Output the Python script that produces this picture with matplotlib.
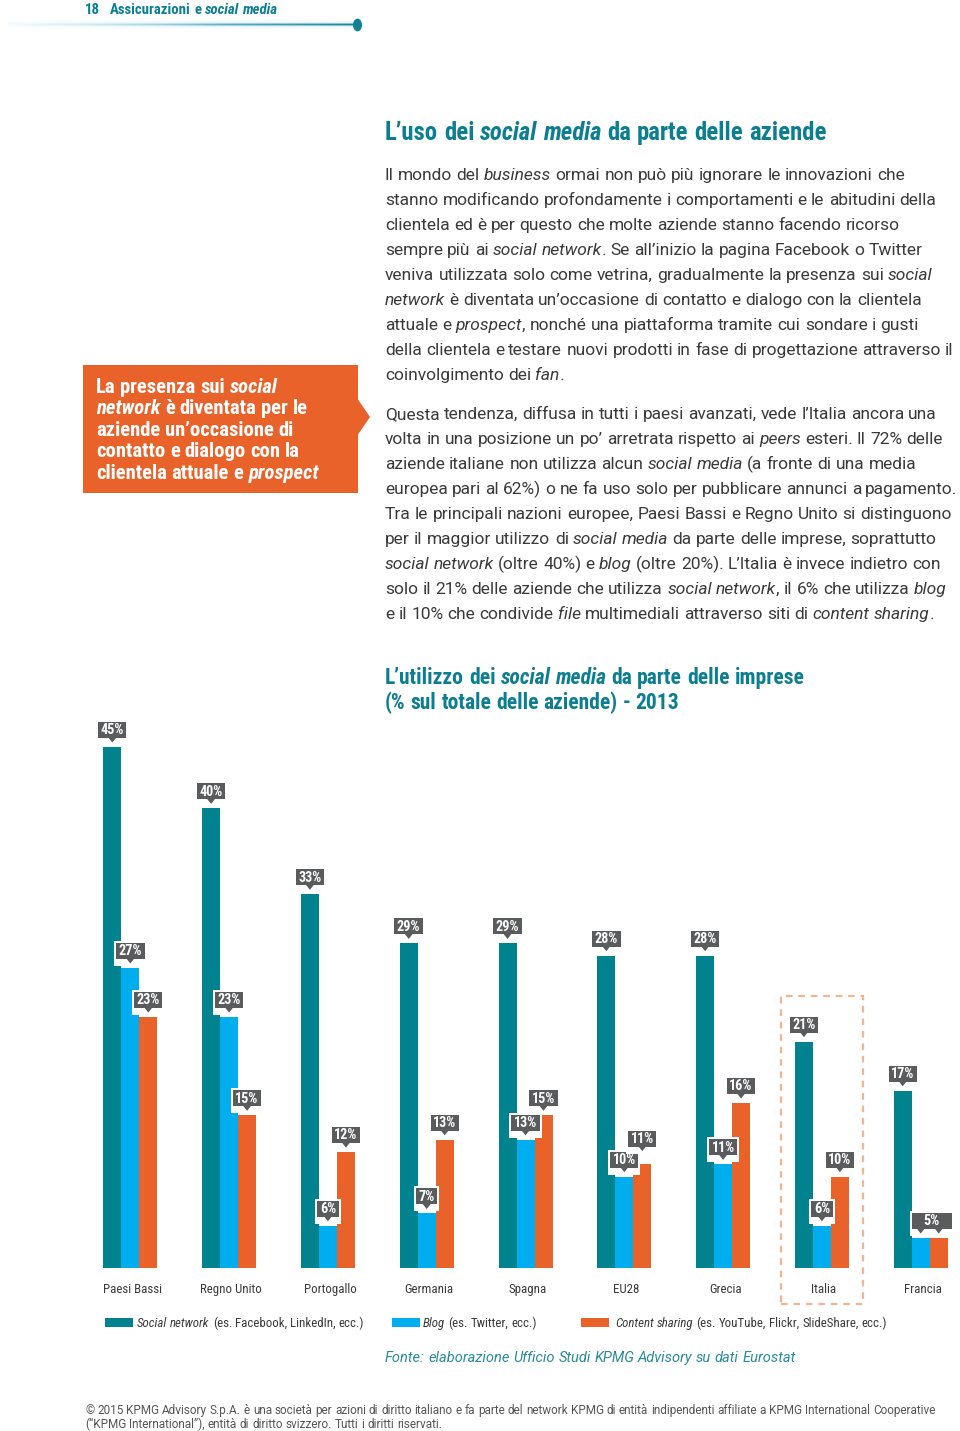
import matplotlib
matplotlib.use('Agg')
import matplotlib.pyplot as plt
from matplotlib import font_manager as fm
from matplotlib.patches import Rectangle, Polygon, Circle
from matplotlib.transforms import IdentityTransform
import numpy as np

# ---------------- data ----------------
categories = ['Paesi Bassi', 'Regno Unito', 'Portogallo', 'Germania', 'Spagna',
              'EU28', 'Grecia', 'Italia', 'Francia']
social_network = [45, 40, 33, 29, 29, 28, 28, 21, 17]
blog = [27, 23, 6, 7, 13, 10, 11, 6, 5]
content_sharing = [23, 15, 12, 13, 15, 11, 16, 10, 5]
series_names = ['*Social network* (es. Facebook, LinkedIn, ecc.)',
                '*Blog* (es. Twitter, ecc.)',
                '*Content sharing* (es. YouTube, Flickr, SlideShare, ecc.)']
highlight = 'Italia'

header_num = '18'
header_txt = 'Assicurazioni e *social media*'
callout_lines = ['La presenza sui *social*',
                 '*network* è diventata per le',
                 'aziende un’occasione di',
                 'contatto e dialogo con la',
                 'clientela attuale e *prospect*']
title1 = 'L’uso dei *social media* da parte delle aziende'
para1 = ['Il mondo del *business* ormai non può più ignorare le innovazioni che',
         'stanno modificando profondamente i comportamenti e le abitudini della',
         'clientela ed è per questo che molte aziende stanno facendo ricorso',
         'sempre più ai *social network*. Se all’inizio la pagina Facebook o Twitter',
         'veniva utilizzata solo come vetrina, gradualmente la presenza sui *social*',
         '*network* è diventata un’occasione di contatto e dialogo con la clientela',
         'attuale e *prospect*, nonché una piattaforma tramite cui sondare i gusti',
         'della clientela e testare nuovi prodotti in fase di progettazione attraverso il',
         'coinvolgimento dei *fan*.']
para2 = ['Questa tendenza, diffusa in tutti i paesi avanzati, vede l’Italia ancora una',
         'volta in una posizione un po’ arretrata rispetto ai *peers* esteri. Il 72% delle',
         'aziende italiane non utilizza alcun *social media* (a fronte di una media',
         'europea pari al 62%) o ne fa uso solo per pubblicare annunci a pagamento.',
         'Tra le principali nazioni europee, Paesi Bassi e Regno Unito si distinguono',
         'per il maggior utilizzo di *social media* da parte delle imprese, soprattutto',
         '*social network* (oltre 40%) e *blog* (oltre 20%). L’Italia è invece indietro con',
         'solo il 21% delle aziende che utilizza *social network*, il 6% che utilizza *blog*',
         'e il 10% che condivide *file* multimediali attraverso siti di *content sharing*.']
chart_title = ['L’utilizzo dei *social media* da parte delle imprese',
               '(% sul totale delle aziende) - 2013']
source = '*Fonte: elaborazione Ufficio Studi KPMG Advisory su dati Eurostat*'
footer = ['© 2015 KPMG Advisory S.p.A. è una società per azioni di diritto italiano e fa parte del network KPMG di entità indipendenti affiliate a KPMG International Cooperative',
          '(“KPMG International”), entità di diritto svizzero. Tutti i diritti riservati.']

# ---------------- style ----------------
TEAL = '#00838f'
BLUE = '#00aeef'
ORANGE = '#e8622a'
TITLE = '#0b7f91'
BOXC = '#5a5b5d'
TXT = '#3a3a3a'

_names = {f.name for f in fm.fontManager.ttflist}


def pick(prefs):
    for p in prefs:
        if p in _names:
            return [p, 'DejaVu Sans']
    return ['DejaVu Sans']


COND = pick(['Liberation Sans Narrow', 'Roboto Condensed', 'Open Sans Condensed',
             'Arial Narrow', 'Liberation Sans', 'Roboto'])
BODY = pick(['Roboto', 'Lato', 'Open Sans'])

W, H = 960, 1431
fig = plt.figure(figsize=(W / 100, H / 100), dpi=100)
fig.patch.set_facecolor('white')
R = fig.canvas.get_renderer()
ID = IdentityTransform()


def fx(x):
    return x / W


def fy(y):
    return 1 - y / H


def parse(text):
    tokens = []
    pending = False
    for k, seg in enumerate(text.split('*')):
        it = k % 2 == 1
        for j, p in enumerate(seg.split(' ')):
            if j > 0:
                pending = True
            if p:
                tokens.append((p, it, pending))
                pending = False
    return tokens


_cache = {}


def tw(s, size, family, weight, italic):
    key = (s, size, tuple(family), weight, italic)
    if key not in _cache:
        t = fig.text(0, 0, s, fontsize=size, family=family, weight=weight,
                     style='italic' if italic else 'normal')
        _cache[key] = t.get_window_extent(renderer=R).width
        t.remove()
    return _cache[key]


def space_w(size, family, weight):
    return tw('n n', size, family, weight, False) - tw('nn', size, family, weight, False)


def line_width(text, size, family, weight):
    sp = space_w(size, family, weight)
    w = 0
    for i, (s, it, spb) in enumerate(parse(text)):
        if spb and i > 0:
            w += sp
        w += tw(s, size, family, weight, it)
    return w


def fit(text, target, family, weight):
    return 10 * target / line_width(text, 10, family, weight)


def draw_line(x, y, text, size, family, weight, color, italic_all=False):
    sp = space_w(size, family, weight)
    for i, (s, it, spb) in enumerate(parse(text)):
        if spb and i > 0:
            x += sp
        fig.text(fx(x), fy(y), s, fontsize=size, family=family, weight=weight,
                 style='italic' if (it or italic_all) else 'normal', color=color,
                 ha='left', va='baseline')
        x += tw(s, size, family, weight, it)


# ---------------- header ----------------
hs = fit(header_txt, 167, COND, 'bold')
draw_line(85, 14, header_num, hs, COND, 'bold', TITLE)
draw_line(110, 14, header_txt, hs, COND, 'bold', TITLE)

gx0, gx1, gyc, gh = 8, 356, 25, 11
hax = fig.add_axes([fx(gx0), fy(gyc + gh / 2), (gx1 - gx0) / W, gh / H])
hax.axis('off')
n = 400
t = np.linspace(0, 1, n)
c0 = np.array([0.80, 0.93, 0.98])
c1 = np.array([0.08, 0.50, 0.58])
tc = t ** 1.1
rgb = c0[None, :] + (c1 - c0)[None, :] * tc[:, None]
yy = np.linspace(-1, 1, gh * 4)
core = np.clip(1.6 - np.abs(yy) * 5.0, 0, 1)
glow = np.exp(-(yy / 0.55) ** 2) * 0.45
img = np.zeros((len(yy), n, 4))
img[..., :3] = rgb[None, :, :] * core[:, None, None] + np.array([0.68, 0.88, 0.97])[None, None, :] * (1 - core[:, None, None])
alpha_x = np.clip(0.25 + 1.2 * t, 0, 1)
img[..., 3] = np.maximum(core[:, None], glow[:, None]) * alpha_x[None, :]
hax.imshow(img, aspect='auto', extent=(0, 1, 0, 1), interpolation='bilinear')
hax.set_xlim(0, 1)
hax.set_ylim(0, 1)
fig.add_artist(Circle((fx(357.5), fy(25)), 3.8 / W, color=tuple(c1), transform=fig.transFigure))

# ---------------- callout ----------------
fig.add_artist(Rectangle((fx(83), fy(493)), (358 - 83) / W, (493 - 365) / H,
                         color=ORANGE, transform=fig.transFigure, lw=0))
fig.add_artist(Polygon([(fx(357), fy(398)), (fx(370), fy(417)), (fx(357), fy(436))],
                       closed=True, color=ORANGE, lw=0, transform=fig.transFigure))
cs = 0.95 * fit(callout_lines[3], 214, COND, 'bold')
for i, ln in enumerate(callout_lines):
    draw_line(96, 393 + 21.4 * i, ln, cs, COND, 'bold', 'white')

# ---------------- title + body ----------------
ts = fit(title1, 441, COND, 'bold')
draw_line(385, 140, title1, ts, COND, 'bold', TITLE)
bs = fit(para1[0], 520, BODY, 'normal')
for i, ln in enumerate(para1):
    draw_line(385, 180 + 25 * i, ln, bs, BODY, 'normal', TXT)
for i, ln in enumerate(para2):
    draw_line(385, 419 + 25 * i, ln, bs, BODY, 'normal', TXT)

# ---------------- chart ----------------
cts = fit(chart_title[0], 420, COND, 'bold')
draw_line(385, 684, chart_title[0], cts, COND, 'bold', TITLE)
draw_line(385, 709, chart_title[1], cts, COND, 'bold', TITLE)

ax = fig.add_axes([fx(90), fy(1268), (955 - 90) / W, (1268 - 700) / H])
x = np.arange(len(categories))
bw = 18 / 98.8
series = [social_network, blog, content_sharing]
colors = [TEAL, BLUE, ORANGE]
offs = [-bw, 0, bw]
for vals, c, o in zip(series, colors, offs):
    ax.bar(x + o, vals, width=bw, color=c, linewidth=0)
ax.set_xlim(-0.408, 8.347)
ax.set_ylim(2.56, 48.83)
for sp_ in ax.spines.values():
    sp_.set_visible(False)
ax.set_yticks([])
ax.set_xticks(x + 0.02)
ls = fit(categories[0], 58.4, COND, 'normal')
ax.set_xticklabels(categories, family=COND, fontsize=ls, color=TXT)
ax.tick_params(axis='x', length=0, pad=11)
ax.patch.set_alpha(0)

hi = categories.index(highlight)
ax.add_patch(Rectangle((hi - 0.415, -0.37), 0.83, 25.07, fill=False,
                       edgecolor='#f2b592', lw=1.6, linestyle=(0, (3, 2.6)),
                       clip_on=False))

fig.canvas.draw()
lab_s = fit('45%', 23.5, COND, 'bold')
BH = 16


def draw_tag(xd, b0, bwid, label, pointers):
    fig.add_artist(Rectangle((xd - bwid / 2 - 2, b0 - 7), bwid + 4, BH + 9,
                             color='white', lw=0, transform=ID))
    fig.add_artist(Rectangle((xd - bwid / 2, b0), bwid, BH, color=BOXC, lw=0, transform=ID))
    for px in pointers:
        fig.add_artist(Polygon([(px - 4, b0 + 0.5), (px + 4, b0 + 0.5), (px, b0 - 4.5)],
                               closed=True, color=BOXC, lw=0, transform=ID))
    fig.text(xd, b0 + BH / 2 - 0.3, label, transform=ID, ha='center', va='center',
             family=COND, weight='bold', fontsize=lab_s, color='white')


for i in range(len(categories)):
    placed = []
    for k, (vals, o) in enumerate(zip(series, offs)):
        v = vals[i]
        label = f'{v}%'
        if k == 2 and blog[i] == content_sharing[i]:
            continue
        xd, yd = ax.transData.transform((i + o, v))
        pointers = [xd]
        bwid = tw(label, lab_s, COND, 'bold', False) + 5
        if k == 1 and blog[i] == content_sharing[i]:
            xb, _ = ax.transData.transform((i + offs[2], v))
            pointers = [xd, xb]
            xd = (xd + xb) / 2 + 2
            bwid = 40
        b0 = yd + 9
        for (l, r, bb, tp) in placed:
            if xd - bwid / 2 < r and xd + bwid / 2 > l and b0 < tp + 2 and b0 + BH > bb:
                b0 = tp + 5
        placed.append((xd - bwid / 2, xd + bwid / 2, b0, b0 + BH))
        draw_tag(xd, b0, bwid, label, pointers)

# ---------------- legend ----------------
lg = fit(series_names[0], 226, COND, 'normal')
leg_x = [(105, 137), (392, 423), (581, 615)]
for (sx, tx), c, name in zip(leg_x, colors, series_names):
    fig.add_artist(Rectangle((fx(sx), fy(1327)), 28 / W, 9 / H, color=c, lw=0,
                             transform=fig.transFigure))
    draw_line(tx, 1327, name, lg, COND, 'normal', TXT)

srs = fit(source, 410, BODY, 'normal')
draw_line(385, 1362, source, srs, BODY, 'normal', '#2a8a99')

fs = fit(footer[0], 860, BODY, 'normal')
draw_line(85, 1414, footer[0], fs, BODY, 'normal', '#555555')
draw_line(85, 1428, footer[1], fs, BODY, 'normal', '#555555')

fig.savefig('out.png', dpi=100, facecolor='white')
